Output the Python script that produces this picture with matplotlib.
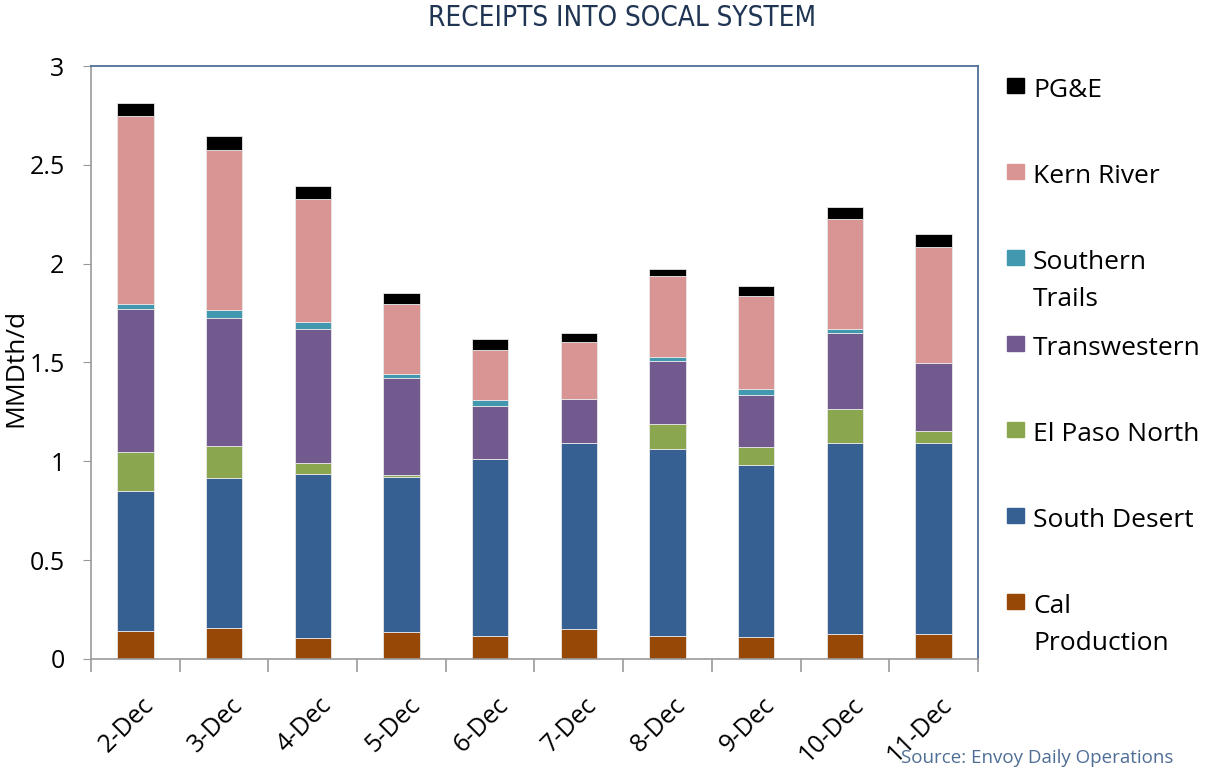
import matplotlib
matplotlib.use("Agg")
import matplotlib.pyplot as plt
import matplotlib.transforms as mtransforms
from matplotlib.patches import Rectangle
import numpy as np

plt.rcParams['font.family'] = ['Open Sans', 'DejaVu Sans']

days = ["2-Dec", "3-Dec", "4-Dec", "5-Dec", "6-Dec", "7-Dec", "8-Dec", "9-Dec", "10-Dec", "11-Dec"]

# MMDth/d by pipeline (bottom to top)
cal_production = [0.143, 0.157, 0.105, 0.138, 0.118, 0.150, 0.118, 0.111, 0.125, 0.125]
south_desert = [0.707, 0.757, 0.829, 0.784, 0.894, 0.941, 0.946, 0.869, 0.966, 0.966]
el_paso_north = [0.195, 0.163, 0.059, 0.007, 0.0, 0.0, 0.123, 0.091, 0.174, 0.064]
transwestern = [0.725, 0.649, 0.675, 0.492, 0.266, 0.226, 0.319, 0.266, 0.382, 0.344]
southern_trails = [0.027, 0.039, 0.038, 0.021, 0.032, 0.0, 0.020, 0.027, 0.021, 0.0]
kern_river = [0.951, 0.810, 0.622, 0.354, 0.253, 0.285, 0.413, 0.471, 0.556, 0.584]
pge = [0.066, 0.070, 0.066, 0.054, 0.054, 0.045, 0.032, 0.053, 0.061, 0.065]

series = [
    ("Cal\nProduction", cal_production, "#974706"),
    ("South Desert", south_desert, "#366092"),
    ("El Paso North", el_paso_north, "#8AA64E"),
    ("Transwestern", transwestern, "#72598E"),
    ("Southern\nTrails", southern_trails, "#4198AF"),
    ("Kern River", kern_river, "#D99594"),
    ("PG&E", pge, "#000000"),
]

fig = plt.figure(figsize=(12.26, 7.77), dpi=100)
ax = fig.add_axes([0.0742, 0.152, 0.7235, 0.763])

x = np.arange(len(days))
bottom = np.zeros(len(days))
for name, vals, col in series:
    ax.bar(x, vals, 0.41, bottom=bottom, color=col, edgecolor="#E8E8E8", linewidth=0.6)
    bottom += np.array(vals)

ax.set_xlim(-0.5, len(days) - 0.5)
ax.set_ylim(0, 3)
ax.set_yticks([0, 0.5, 1, 1.5, 2, 2.5, 3])
ax.set_yticklabels(["0", "0.5", "1", "1.5", "2", "2.5", "3"], fontsize=18)
ax.tick_params(axis="y", length=6, color="#999999", pad=13)

ax.set_xticks(x)
ax.set_xticklabels(days, rotation=45, ha="right", rotation_mode="anchor", fontsize=18)
ax.tick_params(axis="x", length=0, pad=24)
shift = mtransforms.ScaledTranslation(6 / 100, 0, fig.dpi_scale_trans)
for lbl in ax.get_xticklabels():
    lbl.set_transform(lbl.get_transform() + shift)
ax.set_xticks(np.arange(len(days) + 1) - 0.5, minor=True)
ax.tick_params(axis="x", which="minor", length=9, color="#999999", width=1.2)

for s in ["left", "bottom"]:
    ax.spines[s].set_color("#999999")
    ax.spines[s].set_linewidth(1.2)
for s in ["top", "right"]:
    ax.spines[s].set_color("#4F6E96")
    ax.spines[s].set_linewidth(1.3)

ax.set_ylabel("MMDth/d", fontsize=19)
ax.yaxis.set_label_coords(-0.071, 0.49)

fig.text(0.507, 0.977, "RECEIPTS INTO SOCAL SYSTEM", ha="center", va="center",
         fontsize=20, color="#1F3553", family="DejaVu Sans", fontstretch="condensed")

# legend drawn by hand, top entry first
legend_top = 1 - 86 / 777
step = 86 / 777
for i, (name, vals, col) in enumerate(series[::-1]):
    yc = legend_top - i * step
    fig.add_artist(Rectangle((1007 / 1226, yc - 7 / 777), 17 / 1226, 15 / 777,
                             transform=fig.transFigure, color=col))
    fig.text(1033 / 1226, yc + 8 / 777, name, ha="left", va="top", fontsize=19,
             linespacing=1.62)

fig.text(0.957, 0.024, "Source: Envoy Daily Operations", ha="right", va="center",
         fontsize=13.5, color="#4F6E96")

fig.savefig("out.png", dpi=100)
